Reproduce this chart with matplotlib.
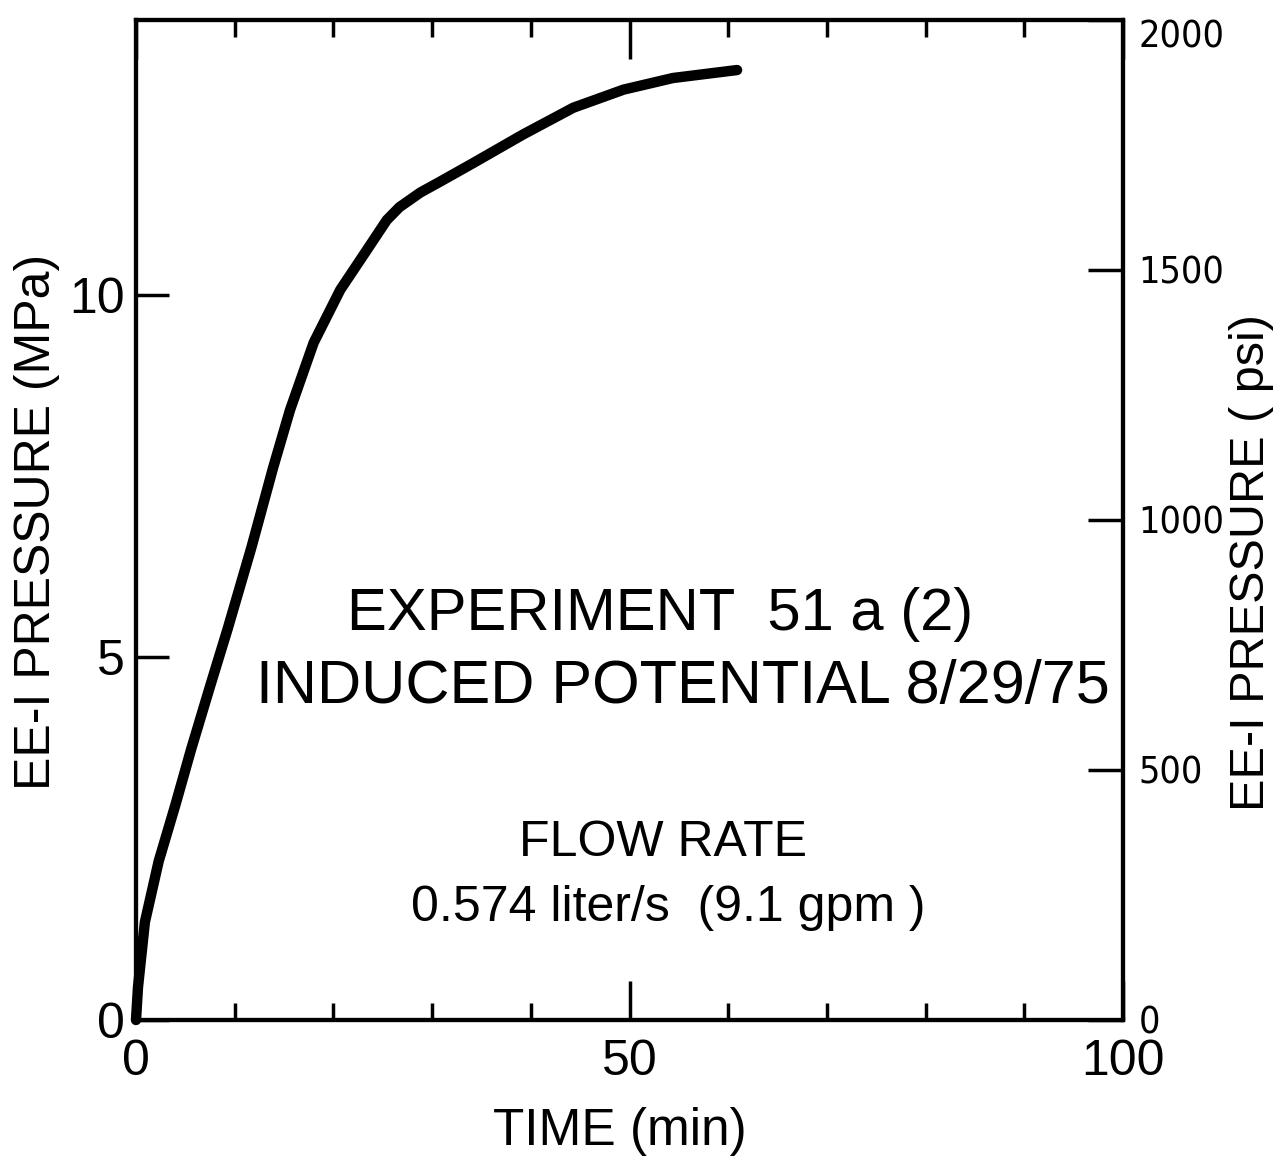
import matplotlib
matplotlib.use("Agg")
import matplotlib.pyplot as plt
from matplotlib import font_manager
from matplotlib.font_manager import FontProperties
from matplotlib.ticker import MultipleLocator

# data
time_min = [0, 0.2, 0.9, 2.3, 4.0, 5.6, 7.5, 9.3, 11.7, 13.9, 15.6, 18.0,
            20.7, 23.4, 25.4, 26.7, 28.8, 30.8, 34.2, 39.2, 44.3, 49.4, 54.4, 60.9]
pressure_mpa = [0, 0.45, 1.35, 2.19, 2.97, 3.74, 4.6, 5.4, 6.52, 7.62, 8.41, 9.34,
                10.07, 10.62, 11.03, 11.21, 11.41, 11.56, 11.82, 12.21, 12.58, 12.83, 12.99, 13.1]

x_ticks = [0, 50, 100]
mpa_ticks = [0, 5, 10]
psi_ticks = [0, 500, 1000, 1500, 2000]
PSI_PER_MPA = 2000 / 13.79

installed = {f.name for f in font_manager.fontManager.ttflist}
font = "Liberation Sans" if "Liberation Sans" in installed else "DejaVu Sans"
plt.rcParams['font.family'] = [font, 'DejaVu Sans']

# a narrow face for the psi labels, if one is around
narrow_files = [f.fname for f in font_manager.fontManager.ttflist
                if any(k in f.fname for k in ("LiberationSansNarrow-Regular", "DejaVuSansCondensed.ttf",
                                                "Roboto_Condensed", "RobotoCondensed-Regular"))]
if narrow_files:
    psi_font = FontProperties(fname=narrow_files[0], size=27)
else:
    psi_font = FontProperties(family=font, size=23)

fig = plt.figure(figsize=(12.75, 11.63), dpi=100)
ax = fig.add_axes([136 / 1275, 143 / 1163, 987 / 1275, 1000 / 1163])

ax.plot(time_min, pressure_mpa, color='black', lw=7.5, solid_capstyle='round',
        solid_joinstyle='round', clip_on=False)

ax.set_xlim(0, 100)
ax.set_ylim(0, 13.79)
for s in ax.spines.values():
    s.set_linewidth(3)

ax.set_xticks(x_ticks)
ax.set_xticklabels([str(v) for v in x_ticks], fontsize=36)
ax.xaxis.set_minor_locator(MultipleLocator(10))
ax.tick_params(axis='x', which='major', direction='in', top=True, length=28, width=2.5, pad=14)
ax.tick_params(axis='x', which='minor', direction='in', top=True, length=12, width=2.5)

ax.set_yticks(mpa_ticks)
ax.set_yticklabels([str(v) for v in mpa_ticks], fontsize=36)
ax.tick_params(axis='y', which='major', direction='in', length=24, width=2.5, pad=8)

ax2 = ax.twinx()
ax2.set_ylim(0, 13.79 * PSI_PER_MPA)
ax2.set_yticks(psi_ticks)
ax2.set_yticklabels([str(v) for v in psi_ticks], fontproperties=psi_font)
ax2.tick_params(axis='y', direction='in', length=25, width=2.5, pad=11)
ax2.get_yticklabels()[-1].set_va('top')
for s in ax2.spines.values():
    s.set_linewidth(3)

fig.text(37 / 1275, 1 - 522 / 1163, "EE-I PRESSURE (MPa)", rotation=90,
         ha='center', va='center', fontsize=36)
fig.text(1252 / 1275, 1 - 563 / 1163, "EE-I PRESSURE ( psi)", rotation=90,
         ha='center', va='center', fontsize=35)
fig.text(620 / 1275, 1 - 1132 / 1163, "TIME (min)", ha='center', va='center', fontsize=37)

fig.text(660 / 1275, 1 - 614 / 1163, "EXPERIMENT  51 a (2)", ha='center', va='center', fontsize=43)
fig.text(683 / 1275, 1 - 688 / 1163, "INDUCED POTENTIAL 8/29/75", ha='center', va='center', fontsize=44)
fig.text(663 / 1275, 1 - 843 / 1163, "FLOW RATE", ha='center', va='center', fontsize=36)
fig.text(668 / 1275, 1 - 908 / 1163, "0.574 liter/s  (9.1 gpm )", ha='center', va='center', fontsize=36)

fig.savefig("out.png", dpi=100)
